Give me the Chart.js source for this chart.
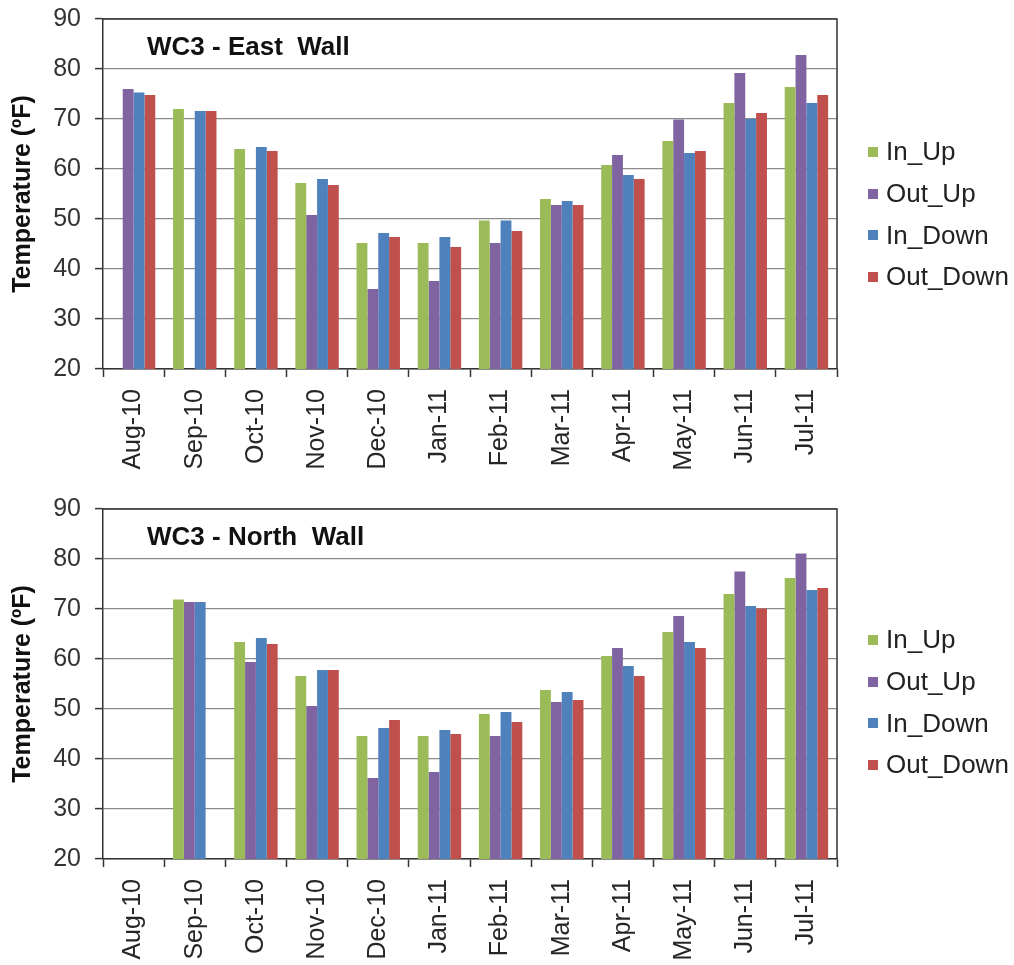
<!DOCTYPE html>
<html>
<head>
<meta charset="utf-8">
<title>WC3 Wall Temperatures</title>
<script src="https://cdn.jsdelivr.net/npm/chart.js@4.4.1/dist/chart.umd.min.js"></script>
<style>
    body { margin: 0; background: #fff; font-family: 'Liberation Sans', Arial, sans-serif; }
    .panel { position: relative; width: 1014px; }
    .panel canvas { display: block; }
    .legend { position: absolute; left: 868px; list-style: none; margin: 0; padding: 0; }
    .legend li { height: 41.7px; display: flex; align-items: center; font-size: 26px; color: #222; }
    .legend .swatch { width: 10px; height: 10px; margin-right: 8px; }
</style>
</head>
<body>
<div class="panel" style="height:490px">
    <canvas id="eastChart" width="1014" height="490"></canvas>
    <ul class="legend" id="eastLegend" style="top:131px"></ul>
</div>
<div class="panel" style="height:475px">
    <canvas id="northChart" width="1014" height="475"></canvas>
    <ul class="legend" id="northLegend" style="top:129px"></ul>
</div>
<script>
// Monthly average temperatures, WC3 walls
const months = ['Aug-10', 'Sep-10', 'Oct-10', 'Nov-10', 'Dec-10', 'Jan-11',
                'Feb-11', 'Mar-11', 'Apr-11', 'May-11', 'Jun-11', 'Jul-11'];

const seriesNames = ['In_Up', 'Out_Up', 'In_Down', 'Out_Down'];
const seriesColors = ['#9BBB59', '#8064A2', '#4F81BD', '#C0504D'];

// East wall
const eastInUp    = [null, 72.0, 64.0, 57.2, 45.2, 45.2, 49.7, 54.0, 60.8, 65.6, 73.2, 76.4];
const eastOutUp   = [76.0, null, null, 50.8, 36.0, 37.6, 45.2, 52.8, 62.8, 69.9, 79.2, 82.8];
const eastInDown  = [75.3, 71.6, 64.4, 58.0, 47.2, 46.4, 49.7, 53.6, 58.8, 63.2, 70.0, 73.2];
const eastOutDown = [74.8, 71.6, 63.6, 56.8, 46.4, 44.4, 47.6, 52.8, 58.0, 63.6, 71.2, 74.8];

// North wall
const northInUp    = [null, 71.9, 63.4, 56.6, 44.6, 44.6, 49.0, 53.8, 60.6, 65.4, 73.0, 76.2];
const northOutUp   = [null, 71.4, 59.4, 50.6, 36.2, 37.4, 44.6, 51.4, 62.2, 68.6, 77.5, 81.1];
const northInDown  = [null, 71.4, 64.2, 57.8, 46.2, 45.8, 49.4, 53.4, 58.6, 63.4, 70.6, 73.8];
const northOutDown = [null, null, 63.0, 57.8, 47.8, 45.0, 47.4, 51.8, 56.6, 62.2, 70.1, 74.2];

// Y axis range
const yMin = 20;
const yMax = 90;
const yStep = 10;

const FONT = "'Liberation Sans', Arial, sans-serif";

// Draws the plot frame (top/right) and the title inside the plot area
const wallFrame = {
    id: 'wallFrame',
    afterDraw(chart, args, opts) {
        const ctx = chart.ctx;
        const a = chart.chartArea;
        ctx.save();
        ctx.strokeStyle = '#333';
        ctx.lineWidth = 1.5;
        ctx.beginPath();
        ctx.moveTo(a.left, a.top);
        ctx.lineTo(a.right, a.top);
        ctx.lineTo(a.right, a.bottom);
        ctx.stroke();

        ctx.font = 'bold 26px ' + FONT;
        ctx.fillStyle = '#111';
        ctx.textBaseline = 'alphabetic';
        ctx.fillText(opts.text, a.left + 44, a.top + 36);
        ctx.restore();
    }
};

document.addEventListener('DOMContentLoaded', function() {
    Chart.defaults.font.family = FONT;

    makeWallChart('eastChart', 'WC3 - East  Wall',
        [eastInUp, eastOutUp, eastInDown, eastOutDown], 121);
    makeWallChart('northChart', 'WC3 - North  Wall',
        [northInUp, northOutUp, northInDown, northOutDown], 106);

    buildLegend('eastLegend');
    buildLegend('northLegend');
});

function makeWallChart(canvasId, title, values, xAxisHeight) {
    const ctx = document.getElementById(canvasId).getContext('2d');

    const datasets = seriesNames.map((name, i) => ({
        label: name,
        data: values[i],
        backgroundColor: seriesColors[i],
        borderWidth: 0,
        categoryPercentage: 0.71,
        barPercentage: 1.0
    }));

    return new Chart(ctx, {
        type: 'bar',
        data: { labels: months, datasets: datasets },
        plugins: [wallFrame],
        options: {
            responsive: false,
            animation: false,
            layout: { padding: { left: 0, top: 19, right: 177, bottom: 0 } },
            plugins: {
                legend: { display: false },
                wallFrame: { text: title }
            },
            scales: {
                x: {
                    grid: {
                        offset: true,
                        drawOnChartArea: false,
                        tickLength: 8,
                        tickColor: '#333',
                        tickWidth: 1.5
                    },
                    border: { color: '#333', width: 1.5 },
                    ticks: {
                        autoSkip: false,
                        minRotation: 90,
                        maxRotation: 90,
                        padding: 12,
                        color: '#262626',
                        font: { size: 25 }
                    },
                    afterFit: function(scale) {
                        scale.height = xAxisHeight;
                    }
                },
                y: {
                    min: yMin,
                    max: yMax,
                    ticks: {
                        stepSize: yStep,
                        padding: 14,
                        color: '#333',
                        font: { size: 25 }
                    },
                    grid: {
                        color: '#8c8c8c',
                        lineWidth: 1.2,
                        tickLength: 8,
                        tickColor: '#333',
                        tickWidth: 1.5
                    },
                    border: { color: '#333', width: 1.5 },
                    title: {
                        display: true,
                        text: 'Temperature (ºF)',
                        color: '#111',
                        font: { size: 25, weight: 'bold' },
                        padding: { top: 8, bottom: 0 }
                    },
                    afterFit: function(scale) {
                        // fixed axis width, and no extra room for the top/bottom labels
                        scale.width = 103;
                        scale.paddingTop = 0;
                        scale.paddingBottom = 0;
                    }
                }
            }
        }
    });
}

function buildLegend(listId) {
    const list = document.getElementById(listId);
    seriesNames.forEach((name, i) => {
        const li = document.createElement('li');
        const swatch = document.createElement('span');
        swatch.className = 'swatch';
        swatch.style.background = seriesColors[i];
        li.appendChild(swatch);
        li.appendChild(document.createTextNode(name));
        list.appendChild(li);
    });
}
</script>
</body>
</html>
